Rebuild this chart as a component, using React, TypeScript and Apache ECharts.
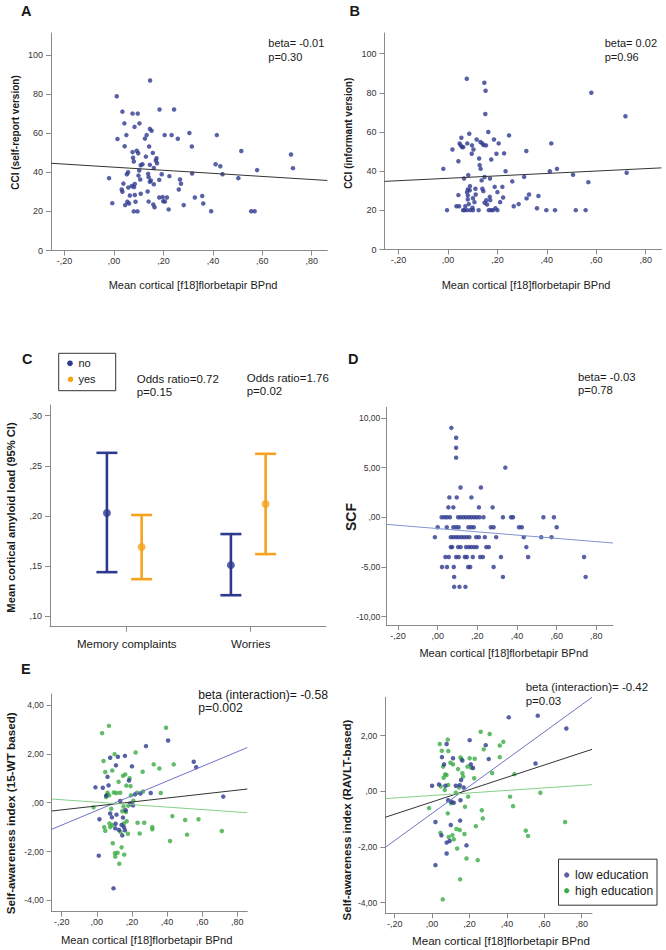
import { useEffect, useRef } from 'react';
import * as echarts from 'echarts';

// ---------- tick values & labels ----------
const xTicks = [-0.2, 0, 0.2, 0.4, 0.6, 0.8];
const xTickLabels = ['-,20', ',00', ',20', ',40', ',60', ',80'];
const cciTicks = [0, 20, 40, 60, 80, 100];
const cciTickLabels = ['0', '20', '40', '60', '80', '100'];
const amyloidTicks = [0.1, 0.15, 0.2, 0.25, 0.3];
const amyloidTickLabels = [',10', ',15', ',20', ',25', ',30'];
const scfTicks = [-10, -5, 0, 5, 10];
const scfTickLabels = ['-10,00', '-5,00', ',00', '5,00', '10,00'];
const saTicksLeft = [-4, -2, 0, 2, 4];
const saTickLabelsLeft = ['-4,00', '-2,00', ',00', '2,00', '4,00'];
const saTicksRight = [-4, -2, 0, 2];
const saTickLabelsRight = ['-4,00', '-2,00', ',00', '2,00'];

// ---------- panel A: CCI self-report ----------
const cciSelf: number[][] = [
  [-0.02, 37], [-0.007, 24.2], [0.011, 78.9], [0.014, 57], [0.034, 71], [0.042, 65], [0.043, 53.3], [0.05, 59],
  [0.052, 39], [0.057, 40], [0.031, 31.2], [0.034, 30], [0.038, 34.2], [0.045, 23.2], [0.054, 24.9], [0.061, 24],
  [0.058, 32.2], [0.064, 28.1], [0.072, 33], [0.075, 70], [0.075, 50.3], [0.077, 47.4], [0.08, 45.5], [0.081, 32.4],
  [0.083, 63.2], [0.084, 34], [0.084, 28.4], [0.087, 24.9], [0.08, 20], [0.095, 20], [0.096, 70], [0.092, 51],
  [0.098, 49.7], [0.099, 38.3], [0.102, 40.9], [0.103, 65], [0.108, 43.6], [0.106, 36.3], [0.108, 29], [0.115, 44.1],
  [0.129, 48], [0.132, 59], [0.125, 57.2], [0.136, 30.2], [0.138, 39.2], [0.14, 37.5], [0.142, 53.2], [0.145, 62.2],
  [0.145, 43.8], [0.145, 35.1], [0.14, 25], [0.146, 86.9], [0.152, 61.2], [0.149, 35.8], [0.157, 49.9], [0.159, 23.5],
  [0.161, 33.9], [0.161, 42.2], [0.164, 22.1], [0.169, 46], [0.174, 44.6], [0.172, 47.2], [0.183, 36.1], [0.184, 72.1],
  [0.183, 27.1], [0.193, 39], [0.197, 27.3], [0.199, 25.2], [0.205, 59], [0.206, 25], [0.214, 27.1], [0.221, 21],
  [0.224, 38], [0.233, 59], [0.243, 72.1], [0.258, 57.1], [0.262, 31.2], [0.267, 36.3], [0.271, 34.1], [0.282, 23.2],
  [0.305, 60.1], [0.315, 53.2], [0.316, 39.4], [0.327, 27.1], [0.357, 27.9], [0.361, 24], [0.393, 20.1], [0.411, 44.1],
  [0.416, 59], [0.43, 43.1], [0.439, 39], [0.503, 37], [0.515, 50.9], [0.555, 20.1], [0.569, 20.1], [0.579, 41.1],
  [0.716, 49.1], [0.724, 42.1],
];
const fitSelf: number[][] = [[-0.255, 44.6], [0.863, 35.8]];

// ---------- panel B: CCI informant ----------
const cciInformant: number[][] = [
  [-0.019, 41.2], [-0.004, 20.1], [0.018, 51.1], [0.042, 45.1], [0.042, 27.8], [0.034, 22.1], [0.045, 22.1], [0.047, 54.2],
  [0.051, 53.2], [0.054, 57.1], [0.057, 52.3], [0.062, 52.3], [0.065, 36.3], [0.061, 20.1], [0.067, 20.1], [0.07, 22.1],
  [0.077, 20.1], [0.076, 87.2], [0.078, 54.2], [0.077, 29.3], [0.08, 30.7], [0.08, 27.6], [0.08, 25.6], [0.082, 38],
  [0.084, 23.2], [0.086, 59.1], [0.088, 30.3], [0.089, 32.4], [0.09, 20.1], [0.096, 48.9], [0.097, 53.2], [0.099, 21.3],
  [0.101, 20.1], [0.101, 26.2], [0.103, 51.1], [0.107, 24.2], [0.111, 31], [0.112, 28.1], [0.116, 56.2], [0.124, 20.1],
  [0.126, 46.5], [0.128, 43.1], [0.131, 54.9], [0.132, 41.2], [0.136, 35.3], [0.139, 54.2], [0.139, 31], [0.143, 29.8],
  [0.144, 53.3], [0.147, 85.2], [0.148, 37], [0.148, 23.9], [0.152, 81.1], [0.151, 69.2], [0.154, 53.2], [0.155, 25.2],
  [0.158, 23], [0.163, 60], [0.165, 20.1], [0.169, 26.9], [0.17, 36.3], [0.171, 25.2], [0.174, 20.1], [0.175, 46],
  [0.182, 20.1], [0.186, 56.2], [0.189, 32], [0.192, 21.1], [0.196, 48.9], [0.2, 20.1], [0.2, 29.3], [0.205, 54.2],
  [0.211, 24.2], [0.22, 32], [0.223, 26.6], [0.227, 49.1], [0.233, 40], [0.247, 58.3], [0.26, 34.8], [0.266, 22.1],
  [0.286, 23.2], [0.308, 37.1], [0.317, 50.3], [0.318, 26.1], [0.328, 28.1], [0.36, 21.1], [0.366, 27.3], [0.398, 20.1],
  [0.412, 40], [0.418, 54.2], [0.433, 20.1], [0.441, 41.2], [0.506, 38.2], [0.517, 20.1], [0.557, 20.1], [0.568, 34.4],
  [0.58, 80.1], [0.718, 68.1], [0.723, 39.2],
];
const fitInformant: number[][] = [[-0.257, 34.8], [0.864, 41.7]];

// ---------- panel C: error bars ----------
const complaintCategories = ['Memory complaints', 'Worries'];
const noMean = [0.203, 0.151];
const noLow = [0.144, 0.121];
const noHigh = [0.263, 0.182];
const yesMean = [0.169, 0.212];
const yesLow = [0.137, 0.162];
const yesHigh = [0.201, 0.262];

// ---------- panel D: SCF ----------
const scfPoints: number[][] = [
  [0.069, 9], [0.093, 8], [0.093, 7], [0.093, 6], [0.341, 5],
  [0.115, 3], [0.218, 3],
  [0.059, 2], [0.096, 2], [0.17, 2],
  [0.054, 1], [0.079, 1], [0.208, 1], [0.277, 1],
  [0.02, 0], [0.034, 0], [0.047, 0], [0.062, 0], [0.103, 0], [0.116, 0], [0.13, 0], [0.143, 0], [0.157, 0], [0.17, 0],
  [0.184, 0], [0.197, 0], [0.211, 0], [0.231, 0], [0.329, 0], [0.37, 0], [0.38, 0], [0.533, 0], [0.586, 0],
  [0.0, -1], [0.046, -1], [0.079, -1], [0.093, -1], [0.106, -1], [0.155, -1], [0.169, -1], [0.182, -1], [0.268, -1],
  [0.282, -1], [0.41, -1], [0.424, -1], [0.6, -1],
  [-0.014, -2], [0.066, -2], [0.079, -2], [0.093, -2], [0.106, -2], [0.12, -2], [0.133, -2], [0.147, -2], [0.16, -2],
  [0.194, -2], [0.208, -2], [0.238, -2], [0.295, -2], [0.434, -2], [0.522, -2], [0.574, -2],
  [0.066, -3], [0.073, -3], [0.103, -3], [0.116, -3], [0.143, -3], [0.157, -3], [0.17, -3], [0.184, -3], [0.197, -3],
  [0.245, -3], [0.258, -3], [0.447, -3],
  [0.039, -4], [0.056, -4], [0.093, -4], [0.106, -4], [0.137, -4], [0.147, -4], [0.177, -4], [0.214, -4], [0.228, -4],
  [0.319, -4], [0.456, -4], [0.738, -4],
  [0.022, -5], [0.047, -5], [0.081, -5], [0.154, -5], [0.164, -5], [0.282, -5],
  [0.083, -6], [0.329, -6], [0.746, -6],
  [0.083, -7], [0.11, -7], [0.14, -7],
];
const fitScf: number[][] = [[-0.259, -0.71], [0.884, -2.59]];

// ---------- panel E left: 15-WT based ----------
const wtLowEdu: number[][] = [
  [-0.008, 0.63], [0.015, -0.68], [0.011, -2.17], [0.034, 0.61], [0.053, 0.29], [0.061, 1.06], [0.067, 0.71],
  [0.076, 1.84], [0.076, -0.44], [0.086, -0.6], [0.095, -3.51], [0.107, -0.86], [0.109, 1.53], [0.112, -0.49],
  [0.12, 1.88], [0.126, -1.12], [0.105, -1.05], [0.141, -0.91], [0.145, -1.34], [0.133, 0.07], [0.149, -0.61],
  [0.154, -1.0], [0.16, 1.92], [0.16, -1.13], [0.164, -0.31], [0.183, 0.91], [0.19, -0.03], [0.2, 1.49],
  [0.206, -0.11], [0.217, 0.34], [0.248, 0.38], [0.28, 2.32], [0.307, 0.4], [0.406, 2.55], [0.552, 1.68],
  [0.566, 1.45], [0.72, 0.25],
];
const wtHighEdu: number[][] = [
  [-0.019, -0.19], [0.03, 2.85], [0.038, 1.71], [0.042, -1.0], [0.048, 1.26], [0.048, -1.15], [0.053, 0.23],
  [0.061, 0.41], [0.069, 3.15], [0.061, 0.34], [0.07, 0.3], [0.072, -0.85], [0.076, -1.0], [0.082, -0.25],
  [0.088, -0.92], [0.091, -1.66], [0.088, 1.32], [0.101, 1.99], [0.097, 0.42], [0.105, -2.21], [0.103, -2.07],
  [0.112, 0.4], [0.118, -2.05], [0.124, 0.86], [0.128, -2.5], [0.133, 0.41], [0.135, -1.2], [0.141, -1.83],
  [0.145, -0.35], [0.149, 1.1], [0.152, -0.16], [0.154, -0.85], [0.156, -2.13], [0.162, 1.16], [0.166, -0.38],
  [0.168, 0.7], [0.17, -0.76], [0.177, -1.27], [0.179, -0.12], [0.187, 1.0], [0.192, 0.68], [0.194, 0.3],
  [0.208, 0.08], [0.221, 2.06], [0.229, 0.41], [0.232, -0.82], [0.244, -1.26], [0.261, 1.27], [0.263, 0.46],
  [0.27, -0.82], [0.324, 1.57], [0.316, -1.09], [0.316, -1.0], [0.356, 1.4], [0.364, 0.4], [0.394, 3.07],
  [0.417, -1.57], [0.43, -0.55], [0.438, 1.57], [0.503, -0.71], [0.514, -1.31], [0.579, -0.68], [0.712, -1.16],
];
const wtFitLow: number[][] = [[-0.257, -1.09], [0.857, 2.26]];
const wtFitAll: number[][] = [[-0.257, -0.34], [0.857, 0.56]];
const wtFitHigh: number[][] = [[-0.257, 0.15], [0.857, -0.41]];

// ---------- panel E right: RAVLT based ----------
const ravltLowEdu: number[][] = [
  [0.0, 0.2], [0.018, -1.1], [0.018, -2.65], [0.037, 0.25], [0.05, -1.58], [0.053, 1.23], [0.064, 0.97],
  [0.071, 0.2], [0.078, 1.7], [0.078, -1.84], [0.078, -2.23], [0.086, -0.32], [0.094, -1.78], [0.1, -1.21],
  [0.103, -0.37], [0.112, 1.19], [0.116, -0.41], [0.127, 0.2], [0.148, 0.22], [0.15, -1.05], [0.152, -0.32],
  [0.155, 0.41], [0.162, 1.11], [0.169, 0.14], [0.184, -1.94], [0.201, 1.84], [0.207, 0.97], [0.219, 0.84],
  [0.287, 1.66], [0.303, 1.16], [0.41, 2.66], [0.565, 2.72], [0.553, 1.0], [0.718, 2.26],
];
const ravltHighEdu: number[][] = [
  [-0.016, -0.6], [0.041, 1.7], [0.046, 0.18], [0.045, -1.49], [0.052, 1.46], [0.059, 0.89], [0.057, -3.88],
  [0.062, 0.49], [0.068, 0.05], [0.07, 0.61], [0.077, 0.59], [0.084, 1.86], [0.084, -0.79], [0.087, 1.45],
  [0.086, 0.23], [0.089, -1.64], [0.098, 1.03], [0.102, -0.43], [0.109, -1.57], [0.112, 0.97], [0.116, -1.72],
  [0.127, -0.05], [0.13, -1.35], [0.134, -2.05], [0.139, 0.8], [0.144, 0.14], [0.148, -1.39], [0.15, -3.16],
  [0.152, 1.22], [0.157, 1.16], [0.162, 0.65], [0.166, 0.53], [0.173, -1.53], [0.176, -0.55], [0.184, -2.41],
  [0.189, 0.89], [0.193, -0.19], [0.201, 1.19], [0.209, 0.85], [0.225, 0.47], [0.228, 1.17], [0.234, -1.25],
  [0.244, -2.47], [0.26, 2.14], [0.266, -0.68], [0.271, -0.97], [0.276, 1.51], [0.308, 2.06], [0.321, 0.66],
  [0.362, 1.65], [0.362, 1.23], [0.381, 1.78], [0.417, -0.19], [0.433, -0.53], [0.44, 0.62], [0.501, -1.41],
  [0.513, -1.6], [0.579, -0.05], [0.711, -1.1],
];
const ravltFitLow: number[][] = [[-0.25, -2.01], [0.855, 3.38]];
const ravltFitAll: number[][] = [[-0.25, -0.93], [0.855, 1.51]];
const ravltFitHigh: number[][] = [[-0.25, -0.26], [0.855, 0.24]];

// ---------- styling ----------
const FONT = '"Liberation Sans", Arial, sans-serif';
const BLUE = '#2e3a8f';
const GREEN = '#3bab45';
const ORANGE = '#f5a31e';
const AXIS = '#8a8a8a';

const lookup = (ticks: number[], labels: string[]) => (v: number) => {
  const i = ticks.findIndex((t) => Math.abs(t - v) < 1e-6);
  return i >= 0 ? labels[i] : '';
};

function valueAxis(gridIndex: number, min: number, max: number, ticks: number[], labels: string[], extra: any = {}) {
  return {
    type: 'value',
    gridIndex,
    min,
    max,
    axisLine: { show: true, onZero: false, lineStyle: { color: AXIS, width: 1 } },
    axisTick: { show: true, customValues: ticks, length: 5, lineStyle: { color: AXIS } },
    axisLabel: {
      customValues: ticks,
      formatter: lookup(ticks, labels),
      fontSize: 9,
      color: '#333',
      fontFamily: FONT,
      margin: 8,
      ...(extra.axisLabel || {}),
    },
    splitLine: { show: false },
  };
}

const scatter = (data: number[][], idx: number, color: string) => ({
  type: 'scatter',
  xAxisIndex: idx,
  yAxisIndex: idx,
  data,
  symbol: 'circle',
  symbolSize: 4.5,
  itemStyle: { color },
  silent: true,
});

const fitLine = (data: number[][], idx: number, color: string) => ({
  type: 'line',
  xAxisIndex: idx,
  yAxisIndex: idx,
  data,
  showSymbol: false,
  symbol: 'none',
  clip: true,
  lineStyle: { color, width: 1 },
  silent: true,
});

const txt = (x: number, y: number, text: string, size: number, extra: any = {}) => ({
  type: 'text',
  x,
  y,
  rotation: extra.rotation || 0,
  style: {
    text,
    fill: extra.fill || '#1a1a1a',
    fontSize: size,
    fontFamily: FONT,
    fontWeight: extra.bold ? 'bold' : 'normal',
    align: extra.align || 'left',
    verticalAlign: 'middle',
    textAlign: extra.align || 'left',
    textVerticalAlign: 'middle',
    lineHeight: extra.lineHeight || size + 3,
  },
  silent: true,
});

const errorBars = (low: number[], high: number[], dodge: number, color: string) => ({
  type: 'custom',
  xAxisIndex: 2,
  yAxisIndex: 2,
  data: low.map((l, i) => [i + 1 + dodge, l, high[i]]),
  encode: { x: 0, y: [1, 2] },
  silent: true,
  renderItem: (_params: any, api: any) => {
    const x = api.value(0);
    const top = api.coord([x, api.value(2)]);
    const bot = api.coord([x, api.value(1)]);
    const w = 10.5;
    const st = { stroke: color, lineWidth: 2.6 };
    return {
      type: 'group',
      children: [
        { type: 'line', shape: { x1: top[0], y1: top[1], x2: bot[0], y2: bot[1] }, style: st },
        { type: 'line', shape: { x1: top[0] - w, y1: top[1], x2: top[0] + w, y2: top[1] }, style: st },
        { type: 'line', shape: { x1: bot[0] - w, y1: bot[1], x2: bot[0] + w, y2: bot[1] }, style: st },
      ],
    };
  },
});

const meanDots = (means: number[], dodge: number, color: string) => ({
  type: 'scatter',
  xAxisIndex: 2,
  yAxisIndex: 2,
  data: means.map((m, i) => [i + 1 + dodge, m]),
  symbol: 'circle',
  symbolSize: 8,
  itemStyle: { color },
  silent: true,
  z: 5,
});

export default function App() {
  const ref = useRef<HTMLDivElement>(null);
  useEffect(() => {
    if (!ref.current) return;
    const chart = echarts.init(ref.current, undefined, { renderer: 'svg' });
    const catTicks = complaintCategories.map((_, i) => i + 1);
    const option: any = {
      animation: false,
      backgroundColor: '#ffffff',
      textStyle: { fontFamily: FONT },
      grid: [
        { left: 51, top: 33, width: 276.3, height: 217.5 },
        { left: 384.5, top: 33, width: 277, height: 216.5 },
        { left: 50, top: 405, width: 276, height: 221.7 },
        { left: 386.3, top: 407.3, width: 226.7, height: 217.7 },
        { left: 51.7, top: 694, width: 195.6, height: 217.7 },
        { left: 385.3, top: 697.3, width: 206.7, height: 216 },
      ],
      xAxis: [
        valueAxis(0, -0.255, 0.863, xTicks, xTickLabels, { axisLabel: { margin: 6 } }),
        valueAxis(1, -0.257, 0.864, xTicks, xTickLabels, { axisLabel: { margin: 6 } }),
        valueAxis(2, 0.381, 2.607, catTicks, complaintCategories, { axisLabel: { margin: 11, fontSize: 11.5, color: '#1a1a1a' } }),
        valueAxis(3, -0.259, 0.884, xTicks, xTickLabels, { axisLabel: { margin: 6 } }),
        valueAxis(4, -0.257, 0.857, xTicks, xTickLabels, { axisLabel: { margin: 6 } }),
        valueAxis(5, -0.25, 0.855, xTicks, xTickLabels, { axisLabel: { margin: 6 } }),
      ],
      yAxis: [
        valueAxis(0, 0, 111.2, cciTicks, cciTickLabels),
        valueAxis(1, 0, 110.6, cciTicks, cciTickLabels),
        valueAxis(2, 0.0896, 0.3107, amyloidTicks, amyloidTickLabels),
        valueAxis(3, -10.84, 11.07, scfTicks, scfTickLabels, { axisLabel: { fontSize: 8.5, margin: 6 } }),
        valueAxis(4, -4.467, 4.455, saTicksLeft, saTickLabelsLeft, { axisLabel: { fontSize: 8.5 } }),
        valueAxis(5, -4.38, 3.38, saTicksRight, saTickLabelsRight, { axisLabel: { fontSize: 8.5 } }),
      ],
      series: [
        fitLine(fitSelf, 0, '#333333'),
        scatter(cciSelf, 0, BLUE),
        fitLine(fitInformant, 1, '#333333'),
        scatter(cciInformant, 1, BLUE),
        errorBars(noLow, noHigh, -0.16, BLUE),
        errorBars(yesLow, yesHigh, 0.12, ORANGE),
        meanDots(noMean, -0.16, BLUE),
        meanDots(yesMean, 0.12, ORANGE),
        fitLine(fitScf, 3, '#7f95cf'),
        scatter(scfPoints, 3, BLUE),
        scatter(wtHighEdu, 4, GREEN),
        scatter(wtLowEdu, 4, BLUE),
        fitLine(wtFitLow, 4, '#6e73c6'),
        fitLine(wtFitAll, 4, '#333333'),
        fitLine(wtFitHigh, 4, '#86d08a'),
        scatter(ravltHighEdu, 5, GREEN),
        scatter(ravltLowEdu, 5, BLUE),
        fitLine(ravltFitLow, 5, '#6e73c6'),
        fitLine(ravltFitAll, 5, '#333333'),
        fitLine(ravltFitHigh, 5, '#86d08a'),
      ],
      graphic: [
        // panel letters
        txt(21, 10.5, 'A', 14.5, { bold: true }),
        txt(349.5, 10.5, 'B', 14.5, { bold: true }),
        txt(22, 358.5, 'C', 14.5, { bold: true }),
        txt(348, 358.5, 'D', 14.5, { bold: true }),
        txt(21, 668.5, 'E', 14.5, { bold: true }),
        // statistics
        txt(268.3, 50.3, 'beta= -0.01\np=0.30', 11, { lineHeight: 14 }),
        txt(604.7, 50.3, 'beta= 0.02\np=0.96', 11, { lineHeight: 14 }),
        txt(136.7, 385.3, 'Odds ratio=0.72\np=0.15', 11.5, { lineHeight: 13 }),
        txt(246.7, 384, 'Odds ratio=1.76\np=0.02', 11.5, { lineHeight: 13 }),
        txt(578, 383.3, 'beta= -0.03\np=0.78', 11.3, { lineHeight: 13.5 }),
        txt(198.3, 701.3, 'beta (interaction)= -0.58\np=0.002', 12.2, { lineHeight: 13 }),
        txt(525.7, 694, 'beta (interaction)= -0.42\np=0.03', 11.5, { lineHeight: 13.5 }),
        // axis titles
        txt(193, 285, 'Mean cortical [f18]florbetapir BPnd', 11, { align: 'center' }),
        txt(526, 285, 'Mean cortical [f18]florbetapir BPnd', 11, { align: 'center' }),
        txt(503.8, 653.3, 'Mean cortical [f18]florbetapir BPnd', 11, { align: 'center' }),
        txt(146.7, 940, 'Mean cortical [f18]florbetapir BPnd', 11.2, { align: 'center' }),
        txt(501, 940.7, 'Mean cortical [f18]florbetapir BPnd', 11.6, { align: 'center' }),
        txt(15, 132.5, 'CCI (self-report version)', 10, { bold: true, align: 'center', rotation: Math.PI / 2 }),
        txt(348, 133.3, 'CCI (informant version)', 10, { bold: true, align: 'center', rotation: Math.PI / 2 }),
        txt(10.5, 517.5, 'Mean cortical amyloid load (95% CI)', 11.2, { bold: true, align: 'center', rotation: Math.PI / 2 }),
        txt(351, 517, 'SCF', 14, { bold: true, align: 'center', rotation: Math.PI / 2 }),
        txt(10.5, 813.3, 'Self-awareness index (15-WT based)', 11.7, { bold: true, align: 'center', rotation: Math.PI / 2 }),
        txt(347, 820, 'Self-awareness index (RAVLT-based)', 11.5, { bold: true, align: 'center', rotation: Math.PI / 2 }),
        // legend C
        {
          type: 'rect',
          shape: { x: 58.7, y: 353.3, width: 57, height: 37.4 },
          style: { fill: '#ffffff', stroke: '#333333', lineWidth: 1 },
          silent: true,
        },
        { type: 'circle', shape: { cx: 70, cy: 363.3, r: 2.8 }, style: { fill: BLUE }, silent: true },
        { type: 'circle', shape: { cx: 70.5, cy: 379.3, r: 2.8 }, style: { fill: ORANGE }, silent: true },
        txt(78.5, 363.3, groups[0], 11),
        txt(78.5, 379.3, groups[1], 11),
        // legend E
        {
          type: 'rect',
          shape: { x: 558.5, y: 859.2, width: 98.5, height: 46 },
          style: { fill: '#ffffff', stroke: '#333333', lineWidth: 1 },
          silent: true,
        },
        { type: 'circle', shape: { cx: 566.7, cy: 875, r: 2.6 }, style: { fill: '#5a5fa8' }, silent: true },
        { type: 'circle', shape: { cx: 566.7, cy: 890.7, r: 2.6 }, style: { fill: GREEN }, silent: true },
        txt(575, 875, educationGroups[0], 12),
        txt(575, 890.7, educationGroups[1], 12),
      ],
    };
    chart.setOption(option);
    return () => chart.dispose();
  }, []);
  return (
    <div
      ref={ref}
      style={{ position: 'absolute', left: 0, top: 0, width: 666, height: 950, background: '#fff' }}
    />
  );
}

const groups = ['no', 'yes'];
const educationGroups = ['low education', 'high education'];
